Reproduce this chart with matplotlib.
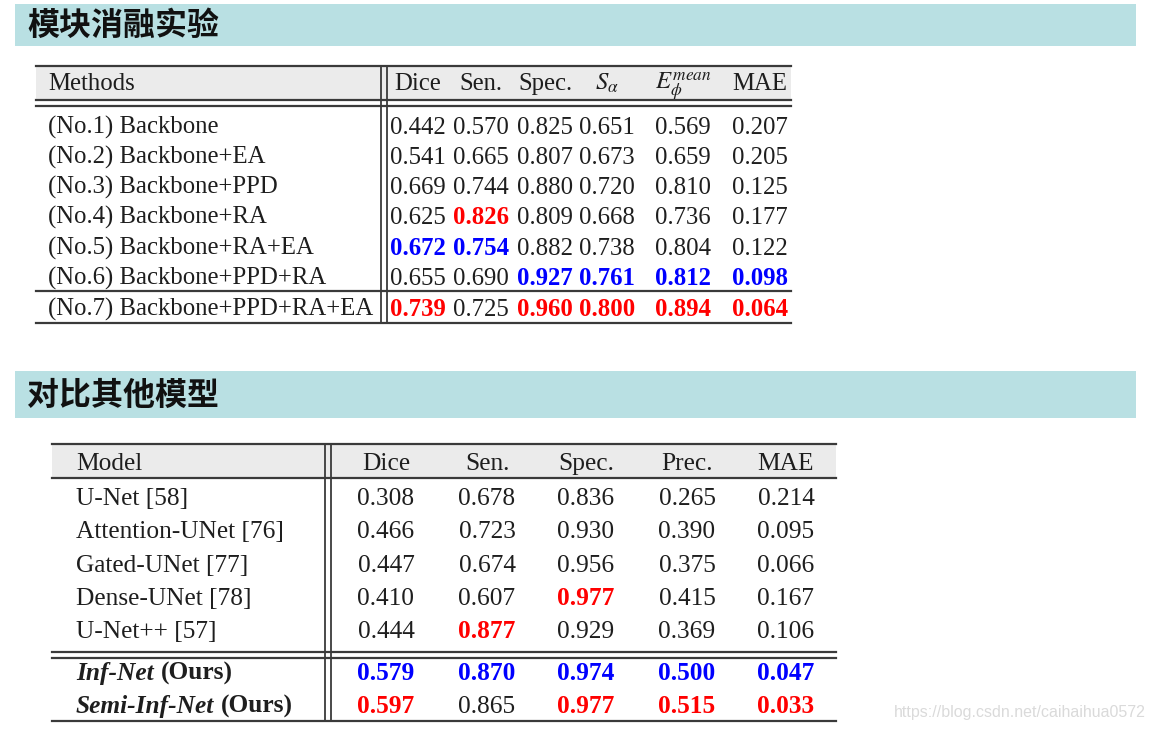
import numpy as np
import matplotlib.pyplot as plt
from matplotlib.patches import Rectangle

plt.rcParams['mathtext.fontset'] = 'stix'

W, H = 1155, 732

# ---- 表1: 模块消融实验 ----
abl_methods = ["(No.1) Backbone", "(No.2) Backbone+EA", "(No.3) Backbone+PPD",
               "(No.4) Backbone+RA", "(No.5) Backbone+RA+EA", "(No.6) Backbone+PPD+RA",
               "(No.7) Backbone+PPD+RA+EA"]
abl_cols = ["Dice", "Sen.", "Spec.", r"$S_\alpha$", r"$E_\phi^{mean}$", "MAE"]
abl_dice = [0.442, 0.541, 0.669, 0.625, 0.672, 0.655, 0.739]
abl_sen = [0.570, 0.665, 0.744, 0.826, 0.754, 0.690, 0.725]
abl_spec = [0.825, 0.807, 0.880, 0.809, 0.882, 0.927, 0.960]
abl_salpha = [0.651, 0.673, 0.720, 0.668, 0.738, 0.761, 0.800]
abl_emean = [0.569, 0.659, 0.810, 0.736, 0.804, 0.812, 0.894]
abl_mae = [0.207, 0.205, 0.125, 0.177, 0.122, 0.098, 0.064]

# ---- 表2: 对比其他模型 ----
cmp_models = ["U-Net [58]", "Attention-UNet [76]", "Gated-UNet [77]", "Dense-UNet [78]",
              "U-Net++ [57]", "Inf-Net", "Semi-Inf-Net"]
cmp_cols = ["Dice", "Sen.", "Spec.", "Prec.", "MAE"]
cmp_dice = [0.308, 0.466, 0.447, 0.410, 0.444, 0.579, 0.597]
cmp_sen = [0.678, 0.723, 0.674, 0.607, 0.877, 0.870, 0.865]
cmp_spec = [0.836, 0.930, 0.956, 0.977, 0.929, 0.974, 0.977]
cmp_prec = [0.265, 0.390, 0.375, 0.415, 0.369, 0.500, 0.515]
cmp_mae = [0.214, 0.095, 0.066, 0.167, 0.106, 0.047, 0.033]

RED, BLUE, INK = "#ff0000", "#0000ff", "#1e1e1e"
SERIF = "Liberation Serif"
FS1, FS2 = 17.8, 18.3

fig = plt.figure(figsize=(W / 100, H / 100), dpi=100)


def fx(x):
    return x / W


def fy(y):
    return 1 - y / H


def hline(x0, x1, y, lw=1.6, c="#3a3a3a"):
    fig.add_artist(plt.Line2D([fx(x0), fx(x1)], [fy(y), fy(y)], lw=lw, color=c))


def vline(x, y0, y1, lw=1.3, c="#3a3a3a"):
    fig.add_artist(plt.Line2D([fx(x), fx(x)], [fy(y0), fy(y1)], lw=lw, color=c))


def rect(x0, y0, x1, y1, color):
    fig.add_artist(Rectangle((fx(x0), fy(y1)), fx(x1) - fx(x0), fy(y0) - fy(y1),
                             transform=fig.transFigure, color=color, lw=0, zorder=0))


def cell(x, y, s, fs, ha="left", **kw):
    # y = 行中线, 用基线对齐
    base = y + 0.33 * fs * 100 / 72 + 2.5
    return fig.text(fx(x), fy(base), s, fontsize=fs, family=SERIF, ha=ha, va="baseline",
                    color=kw.pop("color", INK), **kw)


def rank_colors(vals, lower_better=False):
    u = sorted(set(vals), reverse=not lower_better)
    out = []
    for v in vals:
        if v == u[0]:
            out.append(RED)
        elif v == u[1]:
            out.append(BLUE)
        else:
            out.append(None)
    return out


def banner(y0, y1, title):
    rect(15, y0, 1136, y1, "#b9e0e3")
    fig.text(fx(27), fy((y0 + y1) / 2 + 1), title, fontsize=23, fontweight="bold",
             family=["Noto Sans CJK SC", "DejaVu Sans"], va="center", ha="left", color="#111111")


# ================= 表1 =================
banner(4, 46, "模块消融实验")

t1_left, t1_right = 36, 791
rect(t1_left, 66, t1_right, 100, "#ebebeb")
hline(t1_left, t1_right, 66)
hline(t1_left, t1_right, 100)
hline(t1_left, t1_right, 106)
hline(t1_left, t1_right, 291)
hline(t1_left, t1_right, 323)
vline(381, 66, 323)
vline(387, 66, 323)

t1_xc = [418, 481, 545, 607, 683, 760]
t1_rows = [123, 153, 183, 213, 244, 274, 305]
cell(48, 79, "Methods", FS1)
for x, c in zip(t1_xc, abl_cols):
    cell(x, 79, c, FS1, ha="center")

abl_data = [abl_dice, abl_sen, abl_spec, abl_salpha, abl_emean, abl_mae]
abl_low = [False, False, False, False, False, True]
for y, m in zip(t1_rows, abl_methods):
    cell(48, y, m, FS1)
for x, col, low in zip(t1_xc, abl_data, abl_low):
    cols = rank_colors(col, low)
    for y, v, c in zip(t1_rows, col, cols):
        cell(x, y, f"{v:.3f}", FS1, ha="center",
             color=c if c else INK, fontweight="bold" if c else "normal")

# ================= 表2 =================
banner(371, 418, "对比其他模型")

t2_left, t2_right = 52, 836
rect(t2_left, 444, t2_right, 478, "#ebebeb")
hline(t2_left, t2_right, 444)
hline(t2_left, t2_right, 478)
hline(t2_left, t2_right, 652)
hline(t2_left, t2_right, 658)
hline(t2_left, t2_right, 721)
vline(325, 444, 721)
vline(331, 444, 721)

t2_xc = [386, 487, 586, 687, 786]
t2_rows = [494, 527, 561, 594, 627, 669, 702]
cell(76, 459, "Model", FS2)
for x, c in zip(t2_xc, cmp_cols):
    cell(x, 459, c, FS2, ha="center")

fig.canvas.draw()
for i, (y, m) in enumerate(zip(t2_rows, cmp_models)):
    if i < 5:
        cell(76, y, m, FS2)
    else:
        t = cell(76, y, m, FS2, fontweight="bold", fontstyle="italic")
        bb = t.get_window_extent(renderer=fig.canvas.get_renderer())
        cell(bb.x1 + 7, y, "(Ours)", FS2, fontweight="bold")

cmp_data = [cmp_dice, cmp_sen, cmp_spec, cmp_prec, cmp_mae]
cmp_low = [False, False, False, False, True]
for x, col, low in zip(t2_xc, cmp_data, cmp_low):
    cols = rank_colors(col, low)
    for y, v, c in zip(t2_rows, col, cols):
        cell(x, y, f"{v:.3f}", FS2, ha="center",
             color=c if c else INK, fontweight="bold" if c else "normal")

# 水印
fig.text(fx(1146), fy(713), "https://blog.csdn.net/caihaihua0572", fontsize=11.5,
         family="Liberation Sans", ha="right", va="center", color="#dadada")

fig.savefig("out.png", dpi=100)
